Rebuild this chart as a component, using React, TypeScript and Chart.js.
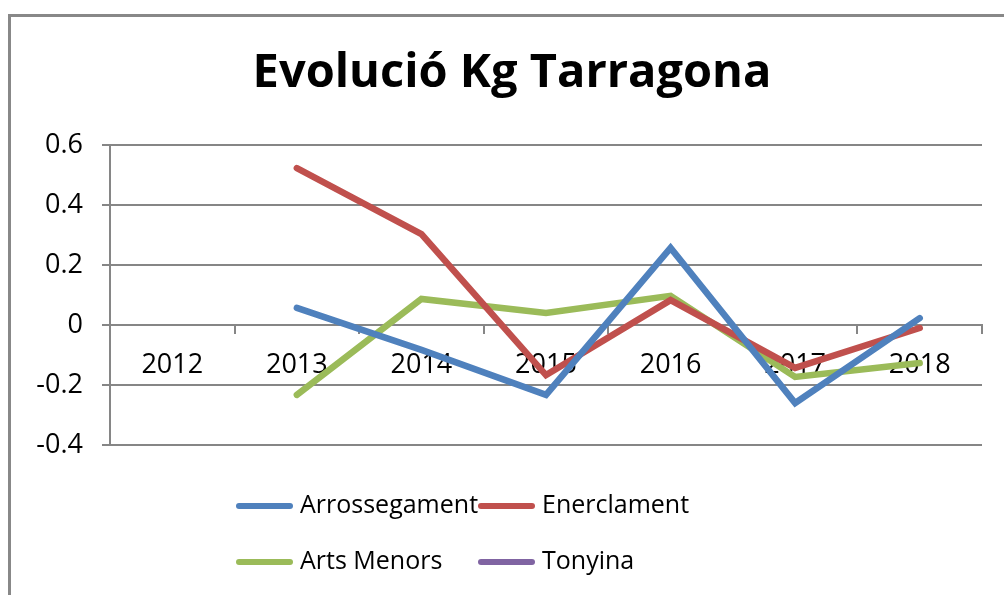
import React, { useEffect, useRef } from "react";
import { Chart, registerables } from "chart.js";

Chart.register(...registerables);

const categories = ["2012", "2013", "2014", "2015", "2016", "2017", "2018"];
const arrossegament = [null, 0.057, -0.083, -0.233, 0.257, -0.26, 0.023];
const enerclament = [null, 0.523, 0.303, -0.167, 0.083, -0.143, -0.01];
const artsMenors = [null, -0.233, 0.087, 0.04, 0.097, -0.173, -0.127];
const tonyina = [null, null, null, null, null, null, null];
const seriesNames = ["Arrossegament", "Enerclament", "Arts Menors", "Tonyina"];
const seriesColors = ["#4F81BD", "#C0504D", "#9BBB59", "#8064A2"];
const yMin = -0.4;
const yMax = 0.6;
const yStep = 0.2;
const titleText = "Evolució Kg Tarragona";

const FONT = "'Open Sans', 'DejaVu Sans', sans-serif";

const titleAndLegend = {
  id: "titleAndLegend",
  afterDraw(chart: any) {
    const { ctx, chartArea } = chart;
    ctx.save();
    // title
    ctx.font = `bold 47px ${FONT}`;
    ctx.textBaseline = "middle";
    ctx.textAlign = "center";
    ctx.fillStyle = "#000";
    ctx.fillText(titleText, chart.width / 2 + 10, chartArea.top - 71);
    // legend in a 2x2 grid
    const x0 = chartArea.left + 126;
    const colW = 242;
    const rowY = [chartArea.bottom + 61, chartArea.bottom + 117];
    ctx.font = `25px ${FONT}`;
    ctx.textAlign = "left";
    chart.data.datasets.forEach((ds: any, i: number) => {
      const x = x0 + (i % 2) * colW;
      const y = rowY[Math.floor(i / 2)];
      ctx.strokeStyle = ds.borderColor;
      ctx.lineWidth = 6;
      ctx.lineCap = "round";
      ctx.beginPath();
      ctx.moveTo(x + 3, y);
      ctx.lineTo(x + 54, y);
      ctx.stroke();
      ctx.fillStyle = "#000";
      ctx.fillText(ds.label, x + 64, y);
    });
    ctx.restore();
  },
};

export default function App() {
  const ref = useRef<HTMLCanvasElement>(null);
  useEffect(() => {
    if (!ref.current) return;
    const series = [arrossegament, enerclament, artsMenors, tonyina];
    const chart = new Chart(ref.current, {
      type: "line",
      data: {
        labels: categories,
        datasets: series.map((d, i) => ({
          label: seriesNames[i],
          data: d,
          borderColor: seriesColors[i],
          backgroundColor: seriesColors[i],
          borderWidth: 6.5,
          pointRadius: 0,
          pointHoverRadius: 0,
          borderCapStyle: "round",
          borderJoinStyle: "miter",
          tension: 0,
          spanGaps: false,
        })),
      },
      options: {
        animation: false,
        responsive: false,
        maintainAspectRatio: false,
        events: [],
        layout: { padding: { top: 145, left: 12, right: 22, bottom: 150 } },
        plugins: {
          legend: { display: false },
          tooltip: { enabled: false },
          title: { display: false },
        },
        scales: {
          x: {
            type: "category",
            position: { y: 0 },
            offset: true,
            grid: {
              offset: true,
              drawOnChartArea: false,
              drawTicks: true,
              tickLength: 8,
              color: "#868686",
              lineWidth: 2,
            },
            border: { display: true, color: "#868686", width: 2 },
            ticks: {
              color: "#000",
              font: { family: FONT, size: 27 },
              padding: 16,
              maxRotation: 0,
              autoSkip: false,
            },
          },
          y: {
            min: yMin,
            max: yMax,
            afterFit: (scale: any) => {
              scale.width = 98;
            },
            grid: {
              color: "#868686",
              lineWidth: 2,
              drawTicks: true,
              tickLength: 8,
            },
            border: { display: true, color: "#868686", width: 2 },
            ticks: {
              stepSize: yStep,
              color: "#000",
              font: { family: FONT, size: 27 },
              padding: 19,
              callback: (v: any) => String(Number(Number(v).toFixed(1))),
            },
          },
        },
      },
      plugins: [titleAndLegend],
    } as any);
    return () => chart.destroy();
  }, []);

  return (
    <div>
      <div
        style={{
          position: "fixed",
          left: 8,
          top: 14,
          width: 1100,
          height: 700,
          border: "3px solid #888888",
          boxSizing: "border-box",
          background: "#fff",
        }}
      />
      <canvas
        ref={ref}
        width={1004}
        height={595}
        style={{ position: "fixed", left: 0, top: 0, width: 1004, height: 595 }}
      />
    </div>
  );
}
